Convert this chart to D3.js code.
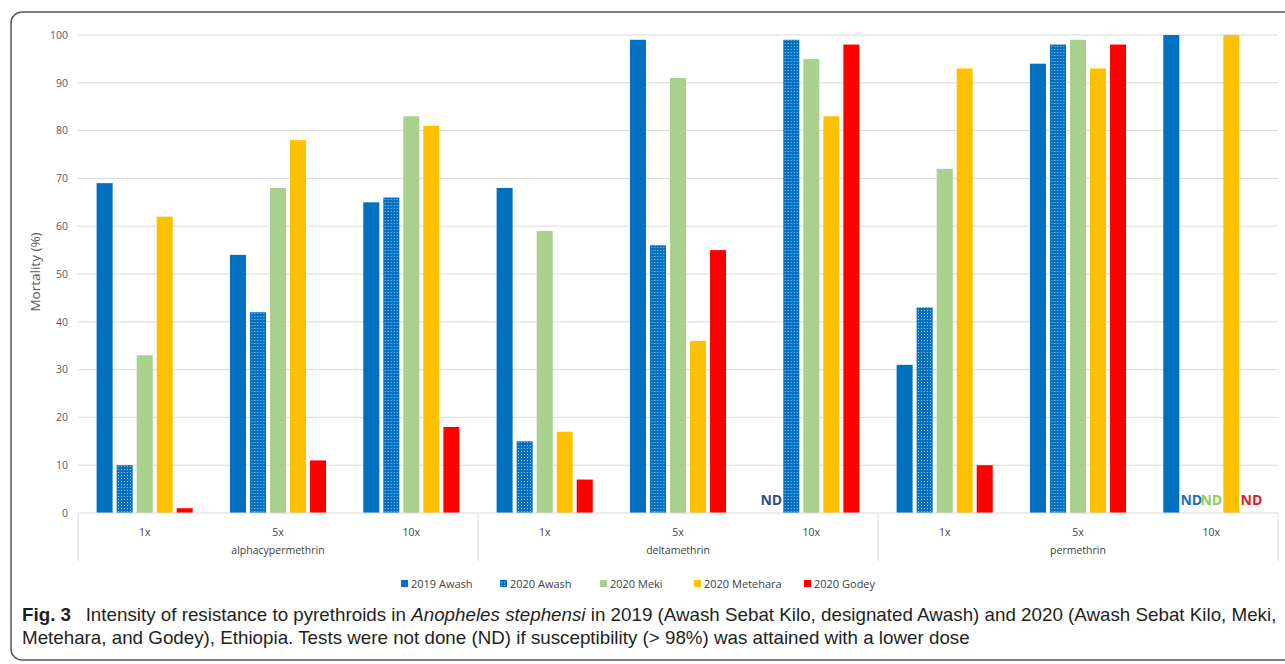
<html>
<head>
<meta charset="utf-8">
<style>
  body { margin: 0; background: #fff; }
  svg text { font-family: "Open Sans", "Liberation Sans", sans-serif; }
</style>
</head>
<body>
<script src="https://d3js.org/d3.v7.min.js"></script>
<svg width="1285" height="664"></svg>
<script type="text/javascript">
// ---- data ----
var insecticides = ["alphacypermethrin", "deltamethrin", "permethrin"];
var doses = ["1x", "5x", "10x"];
var series = ["2019 Awash", "2020 Awash", "2020 Meki", "2020 Metehara", "2020 Godey"];
var colors = ["#0070C0", "url(#dots)", "#A9D18E", "#FFC000", "#FF0000"];
var legendColors = ["#0070C0", "#1F6FC0", "#A9D18E", "#FFC000", "#FF0000"];
var yTicks = [0, 10, 20, 30, 40, 50, 60, 70, 80, 90, 100];

// one value per insecticide/dose; null = not done (ND)
var awash2019    = [69, 54, 65, 68, 99, null, 31, 94, 100];
var awash2020    = [10, 42, 66, 15, 56, 99, 43, 98, null];
var meki2020     = [33, 68, 83, 59, 91, 95, 72, 99, null];
var metehara2020 = [62, 78, 81, 17, 36, 83, 93, 93, 100];
var godey2020    = [1, 11, 18, 7, 55, 98, 10, 98, null];
var ndColors = ["#2F4F8F", "#1F6FC0", "#8CCB5A", "#FFC000", "#E0202A"];

var values = [awash2019, awash2020, meki2020, metehara2020, godey2020];

var cats = [];
insecticides.forEach(function(ins) {
    doses.forEach(function(d) { cats.push(ins + "|" + d); });
});

var svg = d3.select("svg");

// pattern for the 2020 Awash bars
var defs = svg.append("defs");
var pat = defs.append("pattern")
    .attr("id", "dots")
    .attr("patternUnits", "userSpaceOnUse")
    .attr("width", 3).attr("height", 3);
pat.append("rect").attr("width", 3).attr("height", 3).attr("fill", "#0070C0");
pat.append("rect").attr("x", 1).attr("y", 1).attr("width", 1).attr("height", 1).attr("fill", "#9CC8EE");

// outer frame
svg.append("rect")
    .attr("x", 11).attr("y", 12)
    .attr("width", 1300).attr("height", 648)
    .attr("rx", 11)
    .attr("fill", "none")
    .attr("stroke", "#555")
    .attr("stroke-width", 1.5);

var plotL = 78, plotR = 1278, plotT = 35, plotB = 513;

var x0 = d3.scaleBand().domain(cats).range([plotL, plotR]).padding(0);
var x1 = d3.scaleBand().domain(d3.range(series.length))
    .range([0, x0.bandwidth()])
    .paddingInner(0.2).paddingOuter(0.93);
var y = d3.scaleLinear().domain([0, 100]).range([plotB, plotT]);

// gridlines
svg.append("g").selectAll("line").data(yTicks.slice(1)).enter()
    .append("line")
    .attr("x1", plotL).attr("x2", plotR)
    .attr("y1", function(d) { return y(d); })
    .attr("y2", function(d) { return y(d); })
    .attr("stroke", "#D9D9D9").attr("stroke-width", 1);

// y axis labels
var yAxis = d3.axisLeft(y).tickValues(yTicks).tickSize(0).tickPadding(10);
var ya = svg.append("g").attr("transform", "translate(" + plotL + ",0)").call(yAxis);
ya.select(".domain").remove();
ya.selectAll("text").attr("fill", "#595959").style("font-size", "10.5px");

svg.append("text")
    .attr("transform", "translate(40," + (y(50) - 2) + ") rotate(-90)")
    .attr("text-anchor", "middle")
    .attr("fill", "#595959")
    .style("font-size", "13.5px")
    .text("Mortality (%)");

// bars
var groups = svg.append("g").selectAll("g").data(cats).enter()
    .append("g")
    .attr("transform", function(d) { return "translate(" + x0(d) + ",0)"; });

groups.selectAll("rect")
    .data(function(d, ci) {
        return series.map(function(s, si) { return {si: si, v: values[si][ci]}; })
            .filter(function(e) { return e.v !== null; });
    })
    .enter().append("rect")
    .attr("x", function(d) { return x1(d.si); })
    .attr("width", x1.bandwidth())
    .attr("y", function(d) { return y(d.v); })
    .attr("height", function(d) { return y(0) - y(d.v); })
    .attr("fill", function(d) { return colors[d.si]; });

// ND labels
groups.selectAll("text.nd")
    .data(function(d, ci) {
        return series.map(function(s, si) { return {si: si, v: values[si][ci]}; })
            .filter(function(e) { return e.v === null; });
    })
    .enter().append("text")
    .attr("class", "nd")
    .attr("x", function(d) { return x1(d.si) + x1.bandwidth() / 2; })
    .attr("y", plotB - 8)
    .attr("text-anchor", "middle")
    .attr("fill", function(d) { return ndColors[d.si]; })
    .style("font-size", "14px")
    .style("font-weight", "bold")
    .text("ND");

// category axis
svg.append("line")
    .attr("x1", plotL).attr("x2", plotR)
    .attr("y1", plotB).attr("y2", plotB)
    .attr("stroke", "#D9D9D9");

svg.append("g").selectAll("text").data(cats).enter()
    .append("text")
    .attr("x", function(d) { return x0(d) + x0.bandwidth() / 2; })
    .attr("y", 536)
    .attr("text-anchor", "middle")
    .attr("fill", "#404040")
    .style("font-size", "10.5px")
    .text(function(d) { return d.split("|")[1]; });

var sepX = [0, 3, 6, 9].map(function(i) {
    return i < 9 ? x0(cats[i]) : plotR;
});
svg.append("g").selectAll("line").data(sepX).enter()
    .append("line")
    .attr("x1", function(d) { return d; }).attr("x2", function(d) { return d; })
    .attr("y1", plotB).attr("y2", 561)
    .attr("stroke", "#D9D9D9");

svg.append("g").selectAll("text").data(insecticides).enter()
    .append("text")
    .attr("x", function(d, i) { return (sepX[i] + sepX[i + 1]) / 2; })
    .attr("y", 554)
    .attr("text-anchor", "middle")
    .attr("fill", "#404040")
    .style("font-size", "10.5px")
    .text(function(d) { return d; });

// legend
var legendX = [401, 500, 600, 694, 804];
var leg = svg.append("g").selectAll("g").data(series).enter()
    .append("g")
    .attr("transform", function(d, i) { return "translate(" + legendX[i] + ",584)"; });
leg.append("rect")
    .attr("x", 0).attr("y", -4).attr("width", 7).attr("height", 7)
    .attr("fill", function(d, i) { return i === 1 ? "url(#dots)" : legendColors[i]; });
leg.append("text")
    .attr("x", 10).attr("y", 4)
    .attr("fill", "#404040")
    .style("font-size", "11px")
    .text(function(d) { return d; });

// caption
var cap = svg.append("g").attr("class", "caption");
var line1 = cap.append("text").attr("x", 0).attr("y", 0)
    .style("font-family", "'Liberation Sans Narrow', 'Liberation Sans', sans-serif")
    .style("font-size", "19px").attr("fill", "#231F20");
line1.append("tspan").style("font-weight", "bold").text("Fig. 3");
line1.append("tspan").text("\u2002 Intensity of resistance to pyrethroids in ");
line1.append("tspan").style("font-style", "italic").text("Anopheles stephensi");
line1.append("tspan").text(" in 2019 (Awash Sebat Kilo, designated Awash) and 2020 (Awash Sebat Kilo, Meki,");
var line2 = cap.append("text").attr("x", 0).attr("y", 23)
    .style("font-family", "'Liberation Sans Narrow', 'Liberation Sans', sans-serif")
    .style("font-size", "19px").attr("fill", "#231F20")
    .text("Metehara, and Godey), Ethiopia. Tests were not done (ND) if susceptibility (> 98%) was attained with a lower dose");

var w1 = line1.node().getComputedTextLength();
var sx = (1278 - 22) / w1;
cap.attr("transform", "translate(22,621) scale(" + sx + ",1)");
</script>
</body>
</html>
